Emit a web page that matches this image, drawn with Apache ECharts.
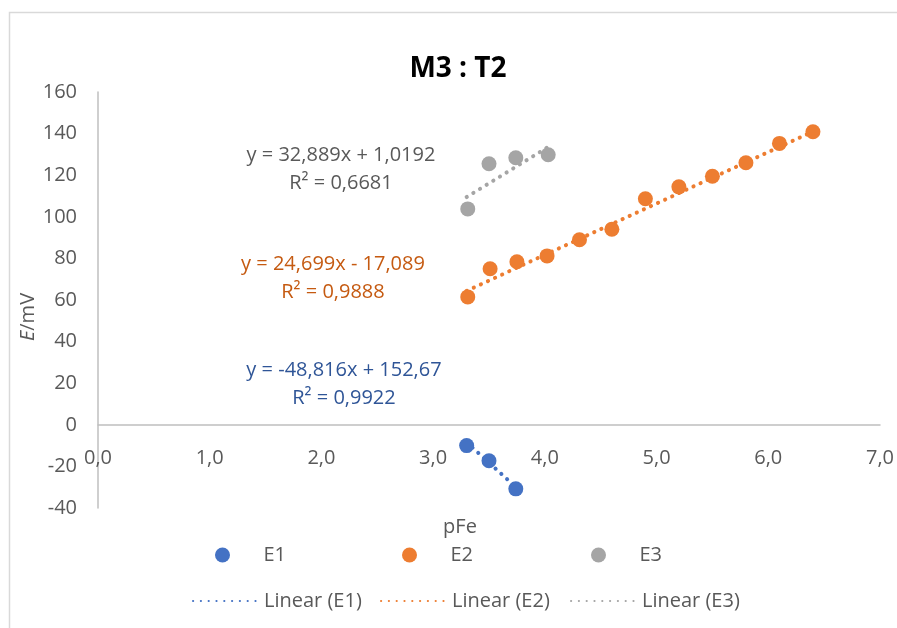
<!DOCTYPE html>
<html>
<head>
<meta charset="utf-8">
<script src="https://cdn.jsdelivr.net/npm/echarts@6/dist/echarts.min.js"></script>
<style>
  html, body { margin: 0; padding: 0; background: #fff; }
  #chart { width: 897px; height: 628px; }
</style>
</head>
<body>
<div id="chart"></div>
<script>
// measured values (pFe, E/mV)
const pFeE1 = [3.3, 3.5, 3.74]
const valE1 = [-10, -17.3, -30.8]
const pFeE2 = [3.31, 3.51, 3.75, 4.02, 4.31, 4.6, 4.9, 5.2, 5.5, 5.8, 6.1, 6.4]
const valE2 = [61.5, 75, 78.4, 81.2, 89, 94, 108.7, 114.4, 119.5, 126, 135.3, 140.9]
const pFeE3 = [3.31, 3.5, 3.74, 4.03]
const valE3 = [103.8, 125.5, 128.4, 129.8]

// trendline end points
const trendE1 = [[3.3, -8.4], [3.74, -29.9]]
const trendE2 = [[3.3, 64.4], [6.4, 141.0]]
const trendE3 = [[3.3, 109.5], [4.03, 133.6]]

const seriesNames = ['E1', 'E2', 'E3']
const trendNames = ['Linear (E1)', 'Linear (E2)', 'Linear (E3)']
const eqLabels = [
  ['y = -48,816x + 152,67', 'R² = 0,9922'],
  ['y = 24,699x - 17,089', 'R² = 0,9888'],
  ['y = 32,889x + 1,0192', 'R² = 0,6681']
]

const colors = ['#4472C4', '#ED7D31', '#A5A5A5']
const labelColors = ['#2F5597', '#C55A11', '#595959']
const FONT = '"Open Sans", "Liberation Sans", sans-serif'

// legend columns (left edge of each legend item)
const legendLeft1 = [210, 397, 586]
const legendLeft2 = [187, 375, 565]

function pairs(xs, ys) {
  return xs.map((x, i) => [x, ys[i]])
}

function scatter(name, data, color) {
  return {
    name: name,
    type: 'scatter',
    data: data,
    symbol: 'circle',
    symbolSize: 15,
    itemStyle: { color: color, opacity: 1 },
    z: 3
  }
}

function trend(name, data, color) {
  return {
    name: name,
    type: 'line',
    data: data,
    showSymbol: false,
    symbol: 'none',
    lineStyle: { color: color, width: 4, type: [0.2, 7.6], cap: 'round' },
    itemStyle: { color: color },
    z: 2
  }
}

function eqGraphic(lines, cx, cy, color) {
  return lines.map((t, i) => ({
    type: 'text',
    x: cx,
    y: cy + i * 28,
    style: {
      text: t,
      fill: color,
      font: '20px ' + FONT,
      textAlign: 'center',
      textVerticalAlign: 'middle'
    }
  }))
}

const legendText = { fontSize: 20, color: '#595959', fontFamily: FONT }

const legends = [
  ...seriesNames.map((n, i) => ({
    data: [n],
    left: legendLeft1[i],
    top: 540,
    icon: 'circle',
    itemWidth: 72,
    itemHeight: 15,
    textStyle: legendText
  })),
  ...trendNames.map((n, i) => ({
    data: [n],
    left: legendLeft2[i],
    top: 586,
    itemWidth: 66,
    itemHeight: 15,
    itemStyle: { opacity: 0 },
    textStyle: legendText
  }))
]

const chart = echarts.init(document.getElementById('chart'))

const option = {
  animation: false,
  textStyle: { fontFamily: FONT },
  title: {
    text: 'M3 : T2',
    left: 453,
    top: 50,
    textAlign: 'center',
    textStyle: { fontSize: 28, fontWeight: 'bold', color: '#000', fontFamily: FONT }
  },
  grid: { left: 98, right: 17, top: 92, bottom: 120 },
  legend: legends,
  xAxis: {
    type: 'value',
    min: 0,
    max: 7,
    interval: 1,
    position: 'bottom',
    offset: -83.2,
    splitLine: { show: false },
    axisTick: { show: false },
    axisLine: { onZero: false, lineStyle: { color: '#BFBFBF', width: 1.5 } },
    axisLabel: {
      fontSize: 20,
      color: '#595959',
      margin: 23,
      formatter: v => v.toFixed(1).replace('.', ',')
    }
  },
  yAxis: {
    type: 'value',
    min: -40,
    max: 160,
    interval: 20,
    splitLine: { show: false },
    axisTick: { show: false },
    axisLine: { show: true, onZero: false, lineStyle: { color: '#BFBFBF', width: 1.5 } },
    axisLabel: { fontSize: 20, color: '#595959', margin: 21 }
  },
  graphic: [
    {
      type: 'rect',
      shape: { x: 9.5, y: 12.5, width: 920, height: 640 },
      style: { fill: 'none', stroke: '#D9D9D9', lineWidth: 1.5 },
      z: -10
    },
    {
      type: 'text',
      x: 460,
      y: 527,
      style: {
        text: 'pFe',
        fill: '#595959',
        font: '20px ' + FONT,
        textAlign: 'center',
        textVerticalAlign: 'middle'
      }
    },
    {
      type: 'text',
      x: 28,
      y: 317,
      rotation: Math.PI / 2,
      style: {
        text: '{i|E}/mV',
        fill: '#595959',
        font: '20px ' + FONT,
        textAlign: 'center',
        textVerticalAlign: 'middle',
        rich: {
          i: { fontStyle: 'italic', fontSize: 20, fill: '#595959', fontFamily: FONT }
        }
      }
    },
    ...eqGraphic(eqLabels[2], 341, 155, labelColors[2]),
    ...eqGraphic(eqLabels[1], 333, 264, labelColors[1]),
    ...eqGraphic(eqLabels[0], 344, 370, labelColors[0])
  ],
  series: [
    scatter(seriesNames[0], pairs(pFeE1, valE1), colors[0]),
    scatter(seriesNames[1], pairs(pFeE2, valE2), colors[1]),
    scatter(seriesNames[2], pairs(pFeE3, valE3), colors[2]),
    trend(trendNames[0], trendE1, colors[0]),
    trend(trendNames[1], trendE2, colors[1]),
    trend(trendNames[2], trendE3, colors[2])
  ]
}

chart.setOption(option)
</script>
</body>
</html>
